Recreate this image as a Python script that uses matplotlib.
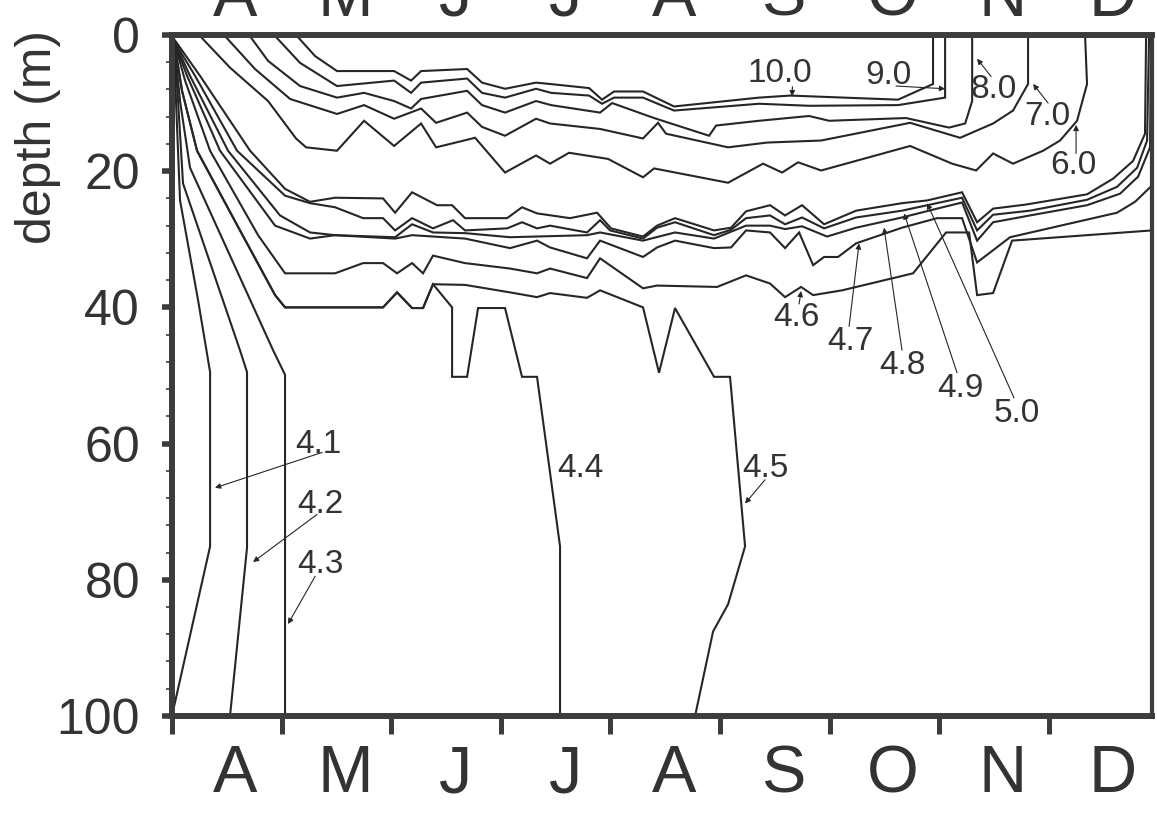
import matplotlib.pyplot as plt
from matplotlib.ticker import MultipleLocator
from matplotlib.transforms import blended_transform_factory

plt.rcParams['font.family'] = ['Liberation Sans', 'DejaVu Sans']

# time in months after 1 April, depth in metres
months = ['A', 'M', 'J', 'J', 'A', 'S', 'O', 'N', 'D']
depth_ticks = [0, 20, 40, 60, 80, 100]

iso_41_t = [0.018, 0.036, 0.073, 0.237, 0.347, 0.347, 0.02]
iso_41_z = [0.9, 9.7, 24.3, 38.9, 49.5, 75.1, 98.5]

iso_42_t = [0.018, 0.055, 0.100, 0.620, 0.684, 0.684, 0.529]
iso_42_z = [0.9, 9.7, 21.8, 46.3, 49.5, 75.3, 100]

iso_43_t = [0.018, 0.073, 0.164, 0.922, 1.031, 1.031]
iso_43_z = [0.9, 9.7, 19.5, 46.3, 49.9, 100]

iso_44_t = [0.018, 0.091, 0.228, 0.620, 0.940, 1.031, 1.925, 2.053, 2.190, 2.290,
            2.381, 2.555, 2.555, 2.692, 2.792, 3.038, 3.193, 3.330, 3.540, 3.540]
iso_44_z = [0.9, 8.2, 17.0, 28.7, 38.2, 40.0, 40.0, 37.8, 40.1, 40.1,
            36.6, 40.0, 50.2, 50.2, 40.1, 40.1, 50.2, 50.2, 75.1, 100]

iso_45_t = [0.018, 0.091, 0.228, 0.620, 0.940, 1.031, 1.925, 2.053, 2.190, 2.290,
            2.381, 2.673, 3.084, 3.330, 3.449, 3.786, 3.905, 4.297, 4.443, 4.589,
            4.945, 5.091, 5.228, 5.073, 4.936, 4.772]
iso_45_z = [0.9, 8.2, 17.0, 28.7, 38.2, 40.0, 40.0, 37.8, 40.1, 40.1,
            36.6, 36.7, 37.8, 38.5, 37.9, 38.6, 37.5, 40.0, 49.6, 40.1,
            50.2, 50.2, 75.1, 83.6, 87.6, 100]

iso_46_t = [0.018, 0.119, 0.347, 0.785, 1.031, 1.487, 1.743, 1.925, 2.053, 2.190,
            2.290, 2.381, 2.673, 3.084, 3.330, 3.449, 3.786, 3.905, 4.297, 4.425,
            4.973, 5.237, 5.456, 5.593, 5.739, 5.849, 6.113, 6.761, 7.062, 7.272,
            7.345, 7.491, 7.664, 8.941]
iso_46_z = [0.9, 6.7, 17.0, 29.4, 35.0, 35.0, 33.5, 33.5, 35.0, 33.5,
            35.0, 32.4, 33.5, 34.3, 35.0, 34.3, 35.7, 32.8, 37.2, 36.8,
            37.0, 35.3, 36.5, 38.5, 37.0, 38.2, 37.5, 35.0, 29.0, 29.0,
            38.2, 37.9, 30.2, 28.7]

iso_47_t = [0.018, 0.137, 0.438, 0.940, 1.259, 1.487, 2.035, 2.190, 2.673, 3.084,
            3.330, 3.449, 3.786, 3.905, 4.297, 4.425, 4.589, 4.945, 5.100, 5.237,
            5.456, 5.593, 5.721, 5.849, 5.949, 6.076, 6.241, 6.660, 6.980, 7.208,
            7.345, 7.646, 8.622, 8.786, 8.941]
iso_47_z = [0.9, 6.0, 17.0, 28.0, 29.9, 29.4, 29.9, 29.4, 29.9, 31.3,
            30.2, 31.2, 32.8, 30.2, 32.6, 31.2, 30.2, 31.3, 31.2, 28.7,
            29.0, 31.3, 29.0, 33.8, 32.6, 32.6, 30.6, 28.3, 26.9, 26.9,
            33.4, 29.7, 26.1, 24.5, 22.1]

iso_48_t = [0.018, 0.164, 0.511, 0.985, 1.259, 1.487, 2.035, 2.190, 2.381, 2.673,
            3.084, 3.786, 3.905, 4.297, 4.589, 4.945, 5.237, 5.456, 5.593, 5.748,
            5.976, 6.241, 6.660, 6.980, 7.208, 7.345, 7.491, 7.828, 8.348, 8.650,
            8.814, 8.923, 8.932]
iso_48_z = [0.9, 6.0, 17.0, 26.5, 29.0, 29.4, 29.7, 27.8, 29.0, 29.1,
            29.7, 29.4, 29.0, 30.2, 29.0, 29.9, 28.0, 28.0, 28.5, 28.1,
            29.6, 28.3, 26.8, 25.5, 24.6, 30.2, 27.5, 26.5, 25.0, 23.3,
            20.8, 16.5, 0]

iso_49_t = [0.018, 0.210, 0.593, 1.031, 1.259, 1.487, 1.743, 1.925, 2.035, 2.190,
            2.381, 2.564, 2.673, 3.057, 3.193, 3.330, 3.449, 3.786, 3.905, 3.996,
            4.297, 4.425, 4.589, 4.945, 5.100, 5.237, 5.456, 5.593, 5.748, 5.949,
            6.241, 6.660, 7.208, 7.345, 7.491, 7.828, 8.348, 8.622, 8.805, 8.896,
            8.914]
iso_49_z = [0.9, 6.0, 17.0, 23.6, 24.7, 25.3, 26.9, 26.9, 28.7, 26.9,
            28.4, 27.2, 28.7, 28.4, 27.5, 28.4, 28.0, 29.0, 27.2, 28.7,
            29.9, 28.3, 27.5, 29.4, 28.6, 26.9, 26.5, 27.8, 26.8, 28.4,
            26.8, 25.8, 23.9, 28.7, 26.4, 25.8, 24.2, 22.3, 19.5, 15.5,
            0]

iso_50_t = [0.018, 0.255, 0.712, 1.031, 1.259, 1.487, 1.925, 2.035, 2.190, 2.418,
            2.555, 2.673, 3.057, 3.193, 3.330, 3.631, 3.878, 4.005, 4.297, 4.425,
            4.589, 4.945, 5.100, 5.237, 5.456, 5.593, 5.748, 5.949, 6.241, 6.660,
            6.889, 7.208, 7.345, 7.491, 7.792, 8.348, 8.586, 8.768, 8.877, 8.887]
iso_50_z = [0.6, 6.0, 17.0, 22.6, 24.5, 23.9, 24.0, 26.1, 23.1, 25.0,
            25.0, 26.9, 26.9, 25.3, 26.2, 26.9, 26.1, 28.4, 29.6, 28.0,
            26.9, 28.7, 28.3, 25.9, 25.0, 26.5, 25.0, 27.8, 25.8, 24.7,
            24.3, 23.1, 27.5, 25.5, 24.9, 23.4, 21.1, 18.5, 14.5, 0]

iso_60_t = [0.246, 0.529, 0.876, 1.131, 1.223, 1.505, 1.752, 2.026, 2.272, 2.409,
            2.765, 3.038, 3.321, 3.449, 3.622, 3.978, 4.297, 4.398, 5.073, 5.392,
            5.566, 5.712, 5.922, 6.734, 7.117, 7.336, 7.491, 7.673, 7.947, 8.102,
            8.257, 8.348, 8.330]
iso_60_z = [0, 4.8, 9.7, 15.2, 16.5, 17.0, 12.6, 16.3, 13.0, 16.5,
            15.1, 20.2, 17.7, 18.9, 17.3, 18.2, 20.9, 19.6, 21.7, 18.9,
            20.2, 18.7, 19.9, 16.3, 18.9, 19.9, 17.4, 18.9, 17.0, 15.5,
            12.6, 7.2, 0]

iso_70_t = [0.474, 0.757, 1.077, 1.505, 1.752, 2.026, 2.272, 2.409, 2.692, 2.828,
            3.038, 3.321, 3.449, 3.905, 4.297, 4.434, 4.507, 5.073, 5.429, 5.922,
            6.734, 7.190, 7.491, 7.673, 7.810, 7.810]
iso_70_z = [0, 5.0, 9.4, 11.6, 10.3, 12.3, 10.8, 12.9, 11.4, 13.5,
            14.8, 12.3, 13.0, 13.8, 15.2, 12.9, 14.5, 16.5, 15.8, 15.5,
            12.9, 15.1, 13.0, 11.1, 7.2, 0]

iso_80_t = [0.703, 0.876, 1.168, 1.505, 1.752, 2.026, 2.181, 2.272, 2.692, 2.828,
            3.038, 3.321, 3.458, 3.905, 4.015, 4.398, 4.900, 4.964, 5.356, 5.812,
            5.995, 6.697, 7.089, 7.236, 7.300, 7.300]
iso_80_z = [0, 3.8, 7.5, 9.2, 8.5, 9.7, 10.8, 9.4, 8.2, 10.3,
            11.4, 9.7, 10.3, 11.4, 10.0, 12.2, 14.8, 13.3, 12.6, 11.9,
            12.6, 12.2, 13.6, 13.0, 9.7, 0]

iso_90_t = [0.931, 1.168, 1.505, 2.026, 2.181, 2.272, 2.692, 2.828, 3.038, 3.321,
            3.458, 3.805, 3.923, 4.033, 4.297, 4.580, 5.356, 5.812, 6.624, 7.053,
            7.053]
iso_90_z = [0, 4.1, 7.5, 6.7, 8.5, 7.0, 6.4, 8.5, 9.2, 7.9,
            8.5, 8.9, 10.1, 9.2, 9.2, 11.1, 10.1, 10.4, 10.3, 9.2,
            0]

iso_100_t = [1.131, 1.305, 1.505, 2.026, 2.181, 2.272, 2.692, 2.828, 3.038, 3.321,
             3.449, 3.805, 3.923, 4.033, 4.297, 4.580, 5.356, 5.639, 6.624, 6.943,
             6.943]
iso_100_z = [0, 3.1, 5.3, 5.3, 6.7, 5.3, 5.0, 7.0, 7.9, 7.0,
             7.2, 7.8, 9.5, 8.3, 8.3, 10.5, 9.2, 8.9, 9.5, 7.2,
             0]

isotherms = [
    (iso_41_t, iso_41_z), (iso_42_t, iso_42_z), (iso_43_t, iso_43_z),
    (iso_44_t, iso_44_z), (iso_45_t, iso_45_z), (iso_46_t, iso_46_z),
    (iso_47_t, iso_47_z), (iso_48_t, iso_48_z), (iso_49_t, iso_49_z),
    (iso_50_t, iso_50_z), (iso_60_t, iso_60_z), (iso_70_t, iso_70_z),
    (iso_80_t, iso_80_z), (iso_90_t, iso_90_z), (iso_100_t, iso_100_z),
]

ink = '#262626'
axis_col = '#3c3c3c'

fig = plt.figure(figsize=(11.57, 8.15), dpi=100)
ax = fig.add_axes([0.1487, 0.1215, 0.8470, 0.8356])

for t, z in isotherms:
    ax.plot(t, z, color=ink, lw=1.5, solid_joinstyle='miter', zorder=2)

# isotherm labels: (text, text position, arrow tail, arrow tip)
labels = [
    ('10.0', (5.548, 5.1), (5.66, 7.6), (5.657, 9.0)),
    ('9.0', (6.533, 5.4), (6.606, 7.5), (7.053, 7.9)),
    ('8.0', (7.500, 7.5), (7.473, 6.1), (7.345, 3.5)),
    ('7.0', (7.983, 11.4), (7.993, 10.0), (7.856, 7.2)),
    ('6.0', (8.221, 18.7), (8.248, 17.4), (8.248, 13.2)),
    ('5.0', (7.710, 55.0), (7.682, 53.3), (6.889, 24.7)),
    ('4.9', (7.190, 51.4), (7.162, 49.6), (6.679, 26.2)),
    ('4.8', (6.660, 48.0), (6.660, 46.3), (6.496, 28.3)),
    ('4.7', (6.186, 44.5), (6.177, 42.8), (6.268, 30.6)),
    ('4.6', (5.693, 41.0), (5.721, 39.5), (5.739, 37.6)),
    ('4.5', (5.411, 63.1), (5.411, 65.3), (5.228, 68.8)),
    ('4.4', (3.723, 63.1), None, None),
    ('4.3', (1.350, 77.3), (1.305, 79.5), (1.058, 86.5)),
    ('4.2', (1.350, 68.5), (1.323, 70.4), (0.739, 77.4)),
    ('4.1', (1.332, 59.6), (1.369, 61.3), (0.392, 66.5)),
]
for text, pos, tail, tip in labels:
    ax.text(pos[0], pos[1], text, fontsize=24, color='#333333',
            ha='center', va='center_baseline', zorder=3)
    if tail is not None:
        ax.annotate('', xy=tip, xytext=tail,
                    arrowprops=dict(arrowstyle='-|>', lw=0.8, color=ink,
                                    mutation_scale=8, shrinkA=0, shrinkB=0))

ax.set_xlim(0, 8.941)
ax.set_ylim(100, 0)

ax.set_xticks(range(9))
ax.set_xticklabels([])
ax.set_yticks(depth_ticks)
ax.yaxis.set_minor_locator(MultipleLocator(4))

ax.tick_params(axis='y', which='major', direction='out', length=7, width=4,
               color=axis_col, labelsize=36, labelcolor='#333333', pad=16)
ax.tick_params(axis='y', which='minor', direction='out', length=4, width=1.2,
               color=axis_col)
ax.tick_params(axis='x', which='major', direction='out', length=13, width=3.6,
               color=axis_col)

for side in ['left', 'right', 'top', 'bottom']:
    ax.spines[side].set_linewidth(4.3)
    ax.spines[side].set_color(axis_col)
ax.spines['right'].set_linewidth(3.0)

# month initials centred in each month, below and above the frame
trans = blended_transform_factory(ax.transData, ax.transAxes)
for i, m in enumerate(months):
    ax.text(i + 0.58, -0.112, m, transform=trans, fontsize=48,
            color='#333333', ha='center', va='baseline', clip_on=False)
    ax.text(i + 0.58, 1.028, m, transform=trans, fontsize=48,
            color='#333333', ha='center', va='baseline', clip_on=False)

ax.text(-0.1367, 0.8495, 'depth (m)', transform=ax.transAxes, rotation=90,
        fontsize=36, color='#333333', ha='center', va='center')

fig.savefig('out.png', dpi=100, facecolor='white')
